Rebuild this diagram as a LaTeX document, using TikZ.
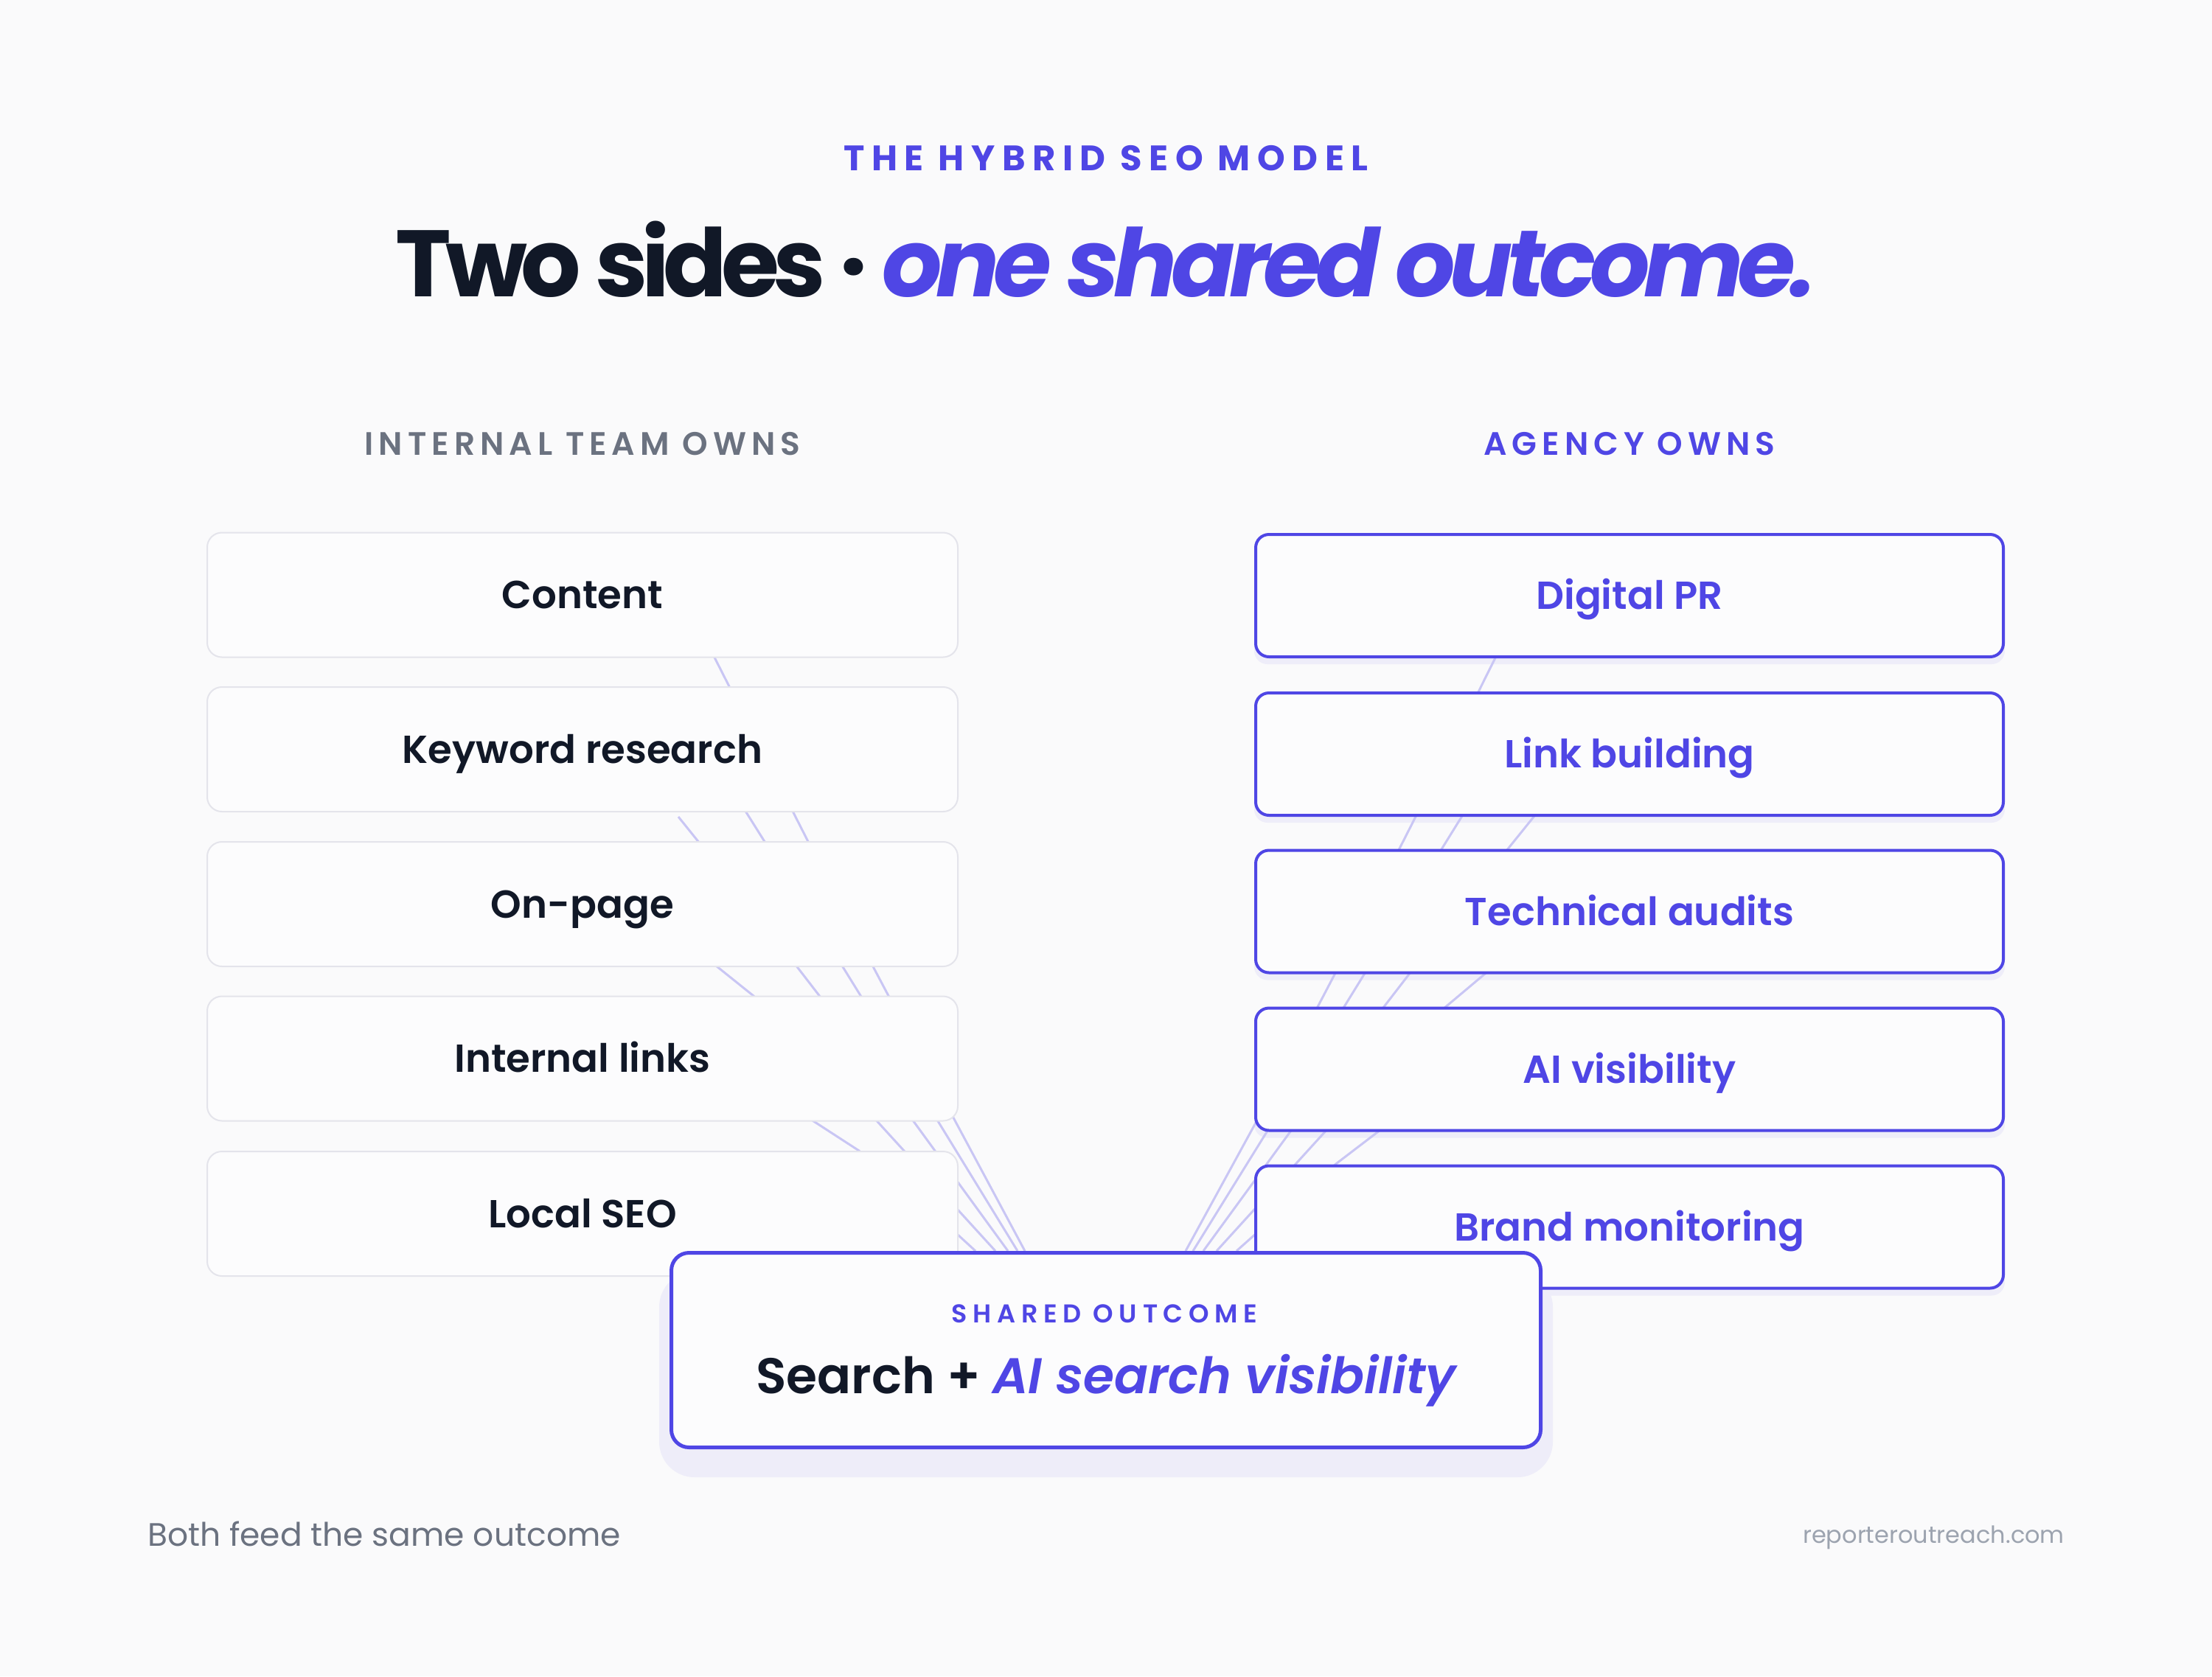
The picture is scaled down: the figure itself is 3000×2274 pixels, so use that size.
\documentclass[tikz,border=0pt]{standalone}
\usepackage{fontspec}
\setmainfont{Poppins}
\newfontfamily\psemi{Poppins}[UprightFont=* SemiBold, ItalicFont=* SemiBold Italic]
\newfontfamily\pbold{Poppins}[UprightFont=* Bold, ItalicFont=* Bold Italic]
\newfontfamily\ptitle{Poppins}[UprightFont=* Bold, ItalicFont=* Bold Italic, LetterSpace=-6.5]
\newfontfamily\pspaced{Poppins}[UprightFont=* SemiBold, LetterSpace=22]
\newfontfamily\phead{Poppins}[UprightFont=* SemiBold, LetterSpace=16]
\newfontfamily\pspacedb{Poppins}[UprightFont=* Bold, LetterSpace=20]
\definecolor{bg}{HTML}{FAFAFB}
\definecolor{indigo}{HTML}{4F46E5}
\definecolor{ink}{HTML}{111827}
\definecolor{slate}{HTML}{6B7280}
\definecolor{muted}{HTML}{9CA3AF}
\definecolor{cardline}{HTML}{E4E4EB}
\definecolor{cardfill}{HTML}{FCFCFD}
\definecolor{wire}{HTML}{C9C6F4}
\definecolor{shadowc}{HTML}{EEEDF9}
\begin{document}
\begin{tikzpicture}[x=0.25pt,y=-0.25pt,
  leftcard/.style={draw=cardline, line width=0.5pt, fill=cardfill, rounded corners=5pt,
    minimum width=254.5pt, minimum height=42.25pt, inner sep=0pt, text=ink,
    font=\psemi\fontsize{13.25pt}{16pt}\selectfont, text height=9.25pt, text depth=0pt},
  rightcard/.style={draw=indigo, line width=1pt, fill=cardfill, rounded corners=4.5pt,
    minimum width=253.5pt, minimum height=41.5pt, inner sep=0pt, text=indigo,
    font=\psemi\fontsize{13.25pt}{16pt}\selectfont, text height=9.25pt, text depth=0pt},
  outbox/.style={draw=indigo, line width=1.25pt, fill=cardfill, rounded corners=6pt,
    minimum width=294.75pt, minimum height=66pt, inner sep=0pt},
  wireline/.style={draw=wire, line width=0.75pt},
  shadowbox/.style={fill=shadowc, rounded corners=4.5pt}
]
\fill[bg] (0,0) rectangle (3000,2274);
\useasboundingbox (0,0) rectangle (3000,2274);

% shadows of agency cards and outcome
\foreach \cy in {808,1023,1236.5,1450.5,1664.5}
  \fill[shadowbox] (1701,\cy-77) rectangle (2719,\cy+93);
\fill[fill=shadowc, rounded corners=12pt] (894,1725) rectangle (2106,2004);

% connector anchor coordinates
\coordinate (cS) at (926,807);   \coordinate (cE) at (1390,1697);
\coordinate (k2S) at (958,1016); \coordinate (k2E) at (1380,1697);
\coordinate (k1S) at (920,1108); \coordinate (k1E) at (1367,1697);
\coordinate (oS) at (936,1282);  \coordinate (oE) at (1350,1697);
\coordinate (iS) at (1071,1500); \coordinate (iE) at (1323,1697);
\coordinate (dS) at (2070,808);  \coordinate (dE) at (1608,1697);
\coordinate (l1S) at (2035,1023);\coordinate (l1E) at (1618,1697);
\coordinate (l2S) at (2143,1030);\coordinate (l2E) at (1632,1697);
\coordinate (tS) at (2083,1263); \coordinate (tE) at (1650,1697);
\coordinate (aS) at (1902,1510); \coordinate (aE) at (1677,1697);

% connectors (behind the cards)
\draw[wireline] (cS) -- (1032,1016) -- (1139,1226) -- (1250,1436) -- (cE);
\draw[wireline] (k2S) -- (1090,1226) -- (1220,1436) -- (k2E);
\draw[wireline] (k1S) -- (1015,1226) -- (1177,1436) -- (k1E);
\draw[wireline] (oS) -- (1022,1351) -- (1112,1436) -- (oE);
\draw[wireline] (iS) -- (1165,1561) -- (1250,1630) -- (iE);
\draw[wireline] (dS) -- (1963,1023) -- (1855,1236) -- (1743,1450) -- (dE);
\draw[wireline] (l1S) -- (1903,1236) -- (1771,1450) -- (l1E);
\draw[wireline] (l2S) -- (1977,1236) -- (1812,1450) -- (l2E);
\draw[wireline] (tS) -- (1920,1400) -- (tE);
\draw[wireline] (aS) -- (1813,1578) -- (1760,1623) -- (aE);

% internal team cards
\node[leftcard] (content) at (790,807) {Content};
\node[leftcard] (keyword) at (790,1016.5) {Keyword research};
\node[leftcard] (onpage) at (790,1226.5) {On-page};
\node[leftcard] (intlinks) at (790,1436) {Internal links};
\node[leftcard] (localseo) at (790,1646.5) {Local SEO};

% agency cards
\node[rightcard] (dpr) at (2210,808) {Digital PR};
\node[rightcard] (links) at (2210,1023) {Link building};
\node[rightcard] (tech) at (2210,1236.5) {Technical audits};
\node[rightcard] (aivis) at (2210,1450.5) {AI visibility};
\node[rightcard] (brand) at (2210,1664.5) {Brand monitoring};

% shared outcome
\node[outbox] (out) at (1500,1831.5) {};
\node[anchor=base, text=indigo, font=\pspaced\fontsize{8.75pt}{10pt}\selectfont] (outkick) at (1498,1794) {SHARED OUTCOME};
\node[anchor=base, text=ink, font=\psemi\fontsize{17pt}{20pt}\selectfont] (outtext) at (1500,1890) {Search + {\color{indigo}\itshape AI search visibility}};

% headings
\node[anchor=base, text=indigo, font=\pspacedb\fontsize{12pt}{14pt}\selectfont] (kicker) at (1500,231) {THE HYBRID SEO MODEL};
\node[anchor=base, text=ink, font=\ptitle\fontsize{32pt}{40pt}\selectfont] (title) at (1500,402) {Two sides · {\color{indigo}\itshape one shared outcome.}};
\node[anchor=base, text=slate, font=\phead\fontsize{11pt}{14pt}\selectfont] (lefthead) at (790,617) {INTERNAL TEAM OWNS};
\node[anchor=base, text=indigo, font=\phead\fontsize{11pt}{14pt}\selectfont] (righthead) at (2210,617) {AGENCY OWNS};

% footer
\node[anchor=base west, text=slate, font=\fontsize{11pt}{13pt}\selectfont] (foot) at (186,2097) {Both feed the same outcome};
\node[anchor=base east, text=muted, font=\fontsize{8pt}{10pt}\selectfont] (site) at (2814,2093) {reporteroutreach.com};
\end{tikzpicture}
\end{document}
